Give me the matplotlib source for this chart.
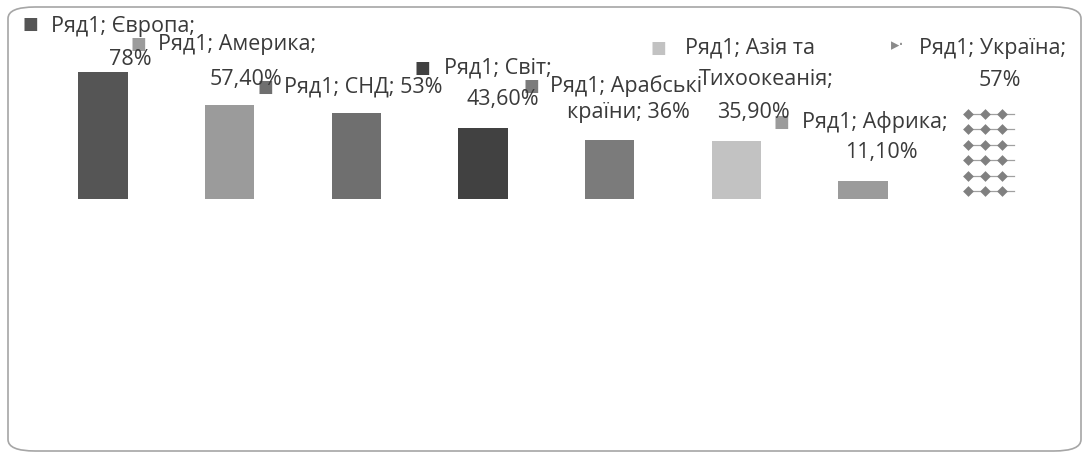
import matplotlib
matplotlib.use("Agg")
import matplotlib.pyplot as plt
from matplotlib.patches import FancyBboxPatch
import numpy as np

# data
regions = ["Європа", "Америка", "СНД", "Світ", "Арабські країни",
           "Азія та Тихоокеанія", "Африка", "Україна"]
values = [78, 57.4, 53, 43.6, 36, 35.9, 11.1, 57]
value_labels = ["78%", "57,40%", "53%", "43,60%", "36%", "35,90%", "11,10%", "57%"]
series_name = "Ряд1"
bar_colors = ["#555555", "#9b9b9b", "#6f6f6f", "#414141", "#7b7b7b",
              "#c2c2c2", "#9b9b9b", "#ffffff"]

# label layout (pixel offsets from bar top): key, then text lines
label_layout = [
    {"key": (-73, 48), "lines": [("Ряд1; Європа;", -52, 45, "left"), ("78%", 27, 12, "center")]},
    {"key": (-91, 61), "lines": [("Ряд1; Америка;", -72, 61, "left"), ("57,40%", 16, 26, "center")]},
    {"key": (-91, 26), "lines": [("Ряд1; СНД; 53%", -72, 26, "left")]},
    {"key": (-61, 60), "lines": [("Ряд1; Світ;", -39, 60, "left"), ("43,60%", 20, 28, "center")]},
    {"key": (-78, 54), "lines": [("Ряд1; Арабські", -60, 54, "left"), ("країни; 36%", 19, 28, "center")]},
    {"key": (-78, 93), "lines": [("Ряд1; Азія та", -51, 93, "left"), ("Тихоокеанія;", 30, 61, "center"),
                                 ("35,90%", 17, 28, "center")]},
    {"key": (-82, 59), "lines": [("Ряд1; Африка;", -61, 59, "left"), ("11,10%", 18, 28, "center")]},
    {"key": (-92, 61), "lines": [("Ряд1; Україна;", -71, 58, "left"), ("57%", 10, 26, "center")]},
]

plt.rcParams['font.family'] = ['Open Sans', 'DejaVu Sans']
W, H = 1089, 459
fig = plt.figure(figsize=(W / 100, H / 100), dpi=100)
fig.patch.set_facecolor("white")

# rounded chart border
border = FancyBboxPatch((8 / W, 8 / H), 1073 / W, 444 / H,
                        boxstyle="round,pad=0,rounding_size=0.025",
                        transform=fig.transFigure, facecolor="none",
                        edgecolor="#a6a6a6", linewidth=1.2, zorder=-1)
fig.patches.append(border)

ax = fig.add_axes([8 / W, 7 / H, 1073 / W, 444 / H])
ax.set_xlim(-0.75, 7.72)
ax.set_ylim(-155.2, 117.2)
ax.axis("off")

x = np.arange(len(values))
bars = ax.bar(x, values, width=0.39, color=bar_colors, edgecolor="none", zorder=2)

# patterned bar for the last category (diamond dots)
ua = len(values) - 1
rows = np.arange(0.5, 6.5) * values[ua] / 6
for r in rows:
    xs = ua + np.array([-0.17, -0.035, 0.10])
    ax.plot([ua - 0.2, ua + 0.19], [r, r], color="#a0a0a0", lw=0.9, zorder=2)
    ax.scatter(xs, [r] * 3, marker="D", s=30, color="#808080", zorder=3, linewidths=0)

text_color = "#3a3a3a"
fs = 15.5
for i, lay in enumerate(label_layout):
    kx, ky = lay["key"]
    key_color = bar_colors[i] if i != ua else "#8a8a8a"
    key_text = "■" if i != ua else "▸·"
    ax.annotate(key_text, xy=(i, values[i]), xytext=(kx, ky), textcoords="offset pixels",
                ha="center", va="center", fontsize=12, color=key_color,
                family=["DejaVu Sans"], zorder=4)
    for txt, dx, dy, ha in lay["lines"]:
        ax.annotate(txt, xy=(i, values[i]), xytext=(dx, dy), textcoords="offset pixels",
                    ha=ha, va="center", fontsize=fs, color=text_color, zorder=5)

plt.savefig("out.png", dpi=100)
plt.close()
